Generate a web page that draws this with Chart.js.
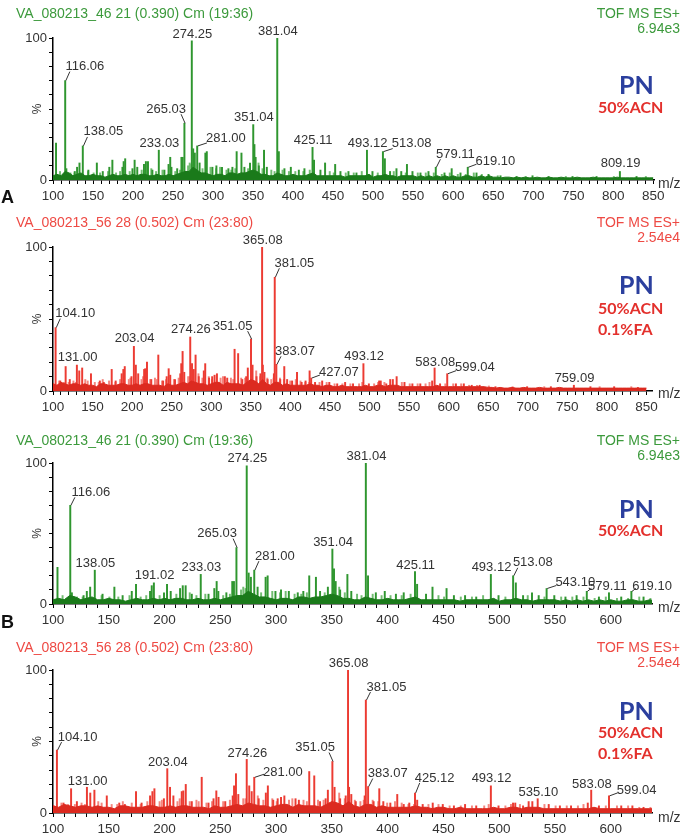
<!DOCTYPE html>
<html>
<head>
<meta charset="utf-8">
<script src="https://cdn.jsdelivr.net/npm/chart.js@4/dist/chart.umd.min.js"></script>
<style>
body{margin:0;background:#fff;width:685px;height:835px;position:relative;overflow:hidden;font-family:"Liberation Sans",Arial,sans-serif}
canvas{position:absolute;left:0}
.t{position:absolute;white-space:nowrap;line-height:1;transform:translateY(-50%);font-size:14px}
.g{color:#3c9a3c}.r{color:#ee4a44}
.pn{position:absolute;font-family:Lato,"Open Sans",sans-serif;font-weight:bold;color:#2b3f9e;font-size:25px;line-height:1;transform:translateY(-50%)}
.sv{position:absolute;font-family:Lato,"Open Sans",sans-serif;font-weight:bold;color:#e3302c;font-size:16px;line-height:1;transform:translateY(-50%)}
.mz{position:absolute;font-size:14px;color:#333;line-height:1;transform:translateY(-50%)}
.big{position:absolute;font-weight:bold;font-size:18px;color:#111;line-height:1;transform:translateY(-50%)}
</style>
</head>
<body>
<canvas id="c1" width="685" height="205" style="top:0"></canvas>
<canvas id="c2" width="685" height="210" style="top:205px"></canvas>
<canvas id="c3" width="685" height="213" style="top:415px"></canvas>
<canvas id="c4" width="685" height="207" style="top:628px"></canvas>

<div class="t g" style="left:16px;top:13px">VA_080213_46 21 (0.390) Cm (19:36)</div>
<div class="t g" style="right:5px;top:13px">TOF MS ES+</div>
<div class="t g" style="right:5px;top:28px">6.94e3</div>
<div class="pn" style="left:619px;top:84px">PN</div>
<div class="sv" style="left:598px;top:107px">50%ACN</div>
<div class="mz" style="left:658px;top:183px">m/z</div>
<div class="big" style="left:1px;top:197px">A</div>

<div class="t r" style="left:16px;top:222px">VA_080213_56 28 (0.502) Cm (23:80)</div>
<div class="t r" style="right:5px;top:222px">TOF MS ES+</div>
<div class="t r" style="right:5px;top:237px">2.54e4</div>
<div class="pn" style="left:619px;top:284px">PN</div>
<div class="sv" style="left:598px;top:308px">50%ACN</div>
<div class="sv" style="left:598px;top:329px">0.1%FA</div>
<div class="mz" style="left:658px;top:393px">m/z</div>

<div class="t g" style="left:16px;top:440px">VA_080213_46 21 (0.390) Cm (19:36)</div>
<div class="t g" style="right:5px;top:440px">TOF MS ES+</div>
<div class="t g" style="right:5px;top:455px">6.94e3</div>
<div class="pn" style="left:619px;top:508px">PN</div>
<div class="sv" style="left:598px;top:530px">50%ACN</div>
<div class="mz" style="left:658px;top:607px">m/z</div>
<div class="big" style="left:1px;top:622px">B</div>

<div class="t r" style="left:16px;top:647px">VA_080213_56 28 (0.502) Cm (23:80)</div>
<div class="t r" style="right:5px;top:647px">TOF MS ES+</div>
<div class="t r" style="right:5px;top:662px">2.54e4</div>
<div class="pn" style="left:619px;top:710px">PN</div>
<div class="sv" style="left:598px;top:732px">50%ACN</div>
<div class="sv" style="left:598px;top:753px">0.1%FA</div>
<div class="mz" style="left:658px;top:817px">m/z</div>

<script>
// PN in 50% ACN (green) - peak m/z and relative intensity (%)
const mzGreen=[104.6,116.06,117.5,128,130.9,133.9,138.05,145,155.6,163,171.2,175,187.6,189.1,191.02,200.1,202.8,206.1,214.5,216.9,219.5,225,233.03,240,245.2,247.3,248.8,256,261.3,262.8,265.03,274.25,276,278,281.00,284,291.2,293,300,305,312,320,325,330.3,336.3,340,347,351.04,352.5,354,358,364.5,368,381.04,383,390,398,408,415,425.11,427,435,440.8,453.4,460,470,480,493.12,500,513.08,515.5,522,530,536,543.10,550,560,570,579.11,590,599,610,619.10,630,645,660,680,700,720,750,780,809.19,830];
const pctGreen=[26,70,8,6,9,12,24,7,12,6,9,14,9,13,15,8,14,9,11,13,13,7,21,7,11,16,9,8,16,16,40,98,22,19,24,12,19,20,9,10,9,8,9,20,19,9,12,39,25,16,10,21,9,100,20,8,9,7,8,23,14,7,12,11,6,6,5,21,6,20,15,6,8,6,11,6,5,6,9,5,8,5,9,5,4,3,2.5,3,2.5,2.5,2.5,6,2.5];
// smaller, paler spikes
const mzGreenMinor=[108,121,126,143,150,158,168,178,183,195,210,222,228,236,252,258,268,270,272,286,296,303,308,316,322,327,343,356,361,372,376,386,394,402,412,420,445,450,465,475,485,505,525,540,555,565,575,585,595,605,615,625,635,655,690,740,800,840];
const pctGreenMinor=[6,5,5,6,5,5,6,5,6,6,7,8,6,7,6,7,10,12,11,8,9,8,9,7,7,8,8,12,8,7,6,7,6,6,6,7,6,5,5,5,6,5,6,5,5,5,5,4,5,4,4,5,4,3,2.5,2.5,2.5,2.5];
// noise floor, read every 5 m/z from 100 to 850
const floorGreen=[3,4,3,6,5,3,4,5,3,3, 4,3,3,2,3,4,3,3,4,3, 4,3,4,4,3,3,4,3,3,4, 3,4,5,6,6,9,7,5,5,4, 3,4,4,3,5,5,4,5,5,6, 7,6,4,4,3,3,5,4,3,3, 4,3,3,3,4,5,3,3,3,3, 3,3,3,2,3,3,3,3,3,4, 2,3,3,4,3,3,2,3,3,3, 3,2,3,2,3,2,3,2,3,2, 3,2,2,3,3,2,2,3,2,3, 2,2,1.5,2,2,1.5,2,1.5,2,1.5, 1.5,2,1.5,1.5,2,1.5,1.5,2,1.5,1.5, 1.5,2,1.5,1.5,1.5,2,1.5,1.5,1.5,1.5, 1.5,2,1.5,1.5,1.5,1.5,1.5,1.5,1.5,1.5, 1.5];

// PN in 50% ACN + 0.1% FA (red)
const mzRed=[101,104.10,110,116.8,122,131.00,134,137.7,148.8,160,165,175,180,187.6,189.7,191.5,200,203.04,205.5,208.5,216,217.4,219.6,225,233.9,240,244.5,247,249,255,261.7,262.9,264.6,266.7,274.26,276.5,278.7,281.00,285,291.4,293.2,298,302,305,308,318,321,330.3,334.8,340,345,347,351.05,353,358,363,365.08,366,368,372,380,381.05,383.07,388,393.1,396.7,403,409.2,415,420,425.12,427.07,432,441,450,460,470,480,493.12,500,513,515,522,527,530.3,535.10,545,555,565,580,583.08,590,599.04,610,620,630,640,660,700,730,759.09,780,810,840];
const pctRed=[5,44,7,17,8,18,14,16,12,7,6,15,7,12,15,17,10,31,18,12,15,15.5,20,8,25,7,10,15.5,11,8,12,19,27.5,13,37.5,19,15,25,10,14,19,9,10,11,12,10,9,29,26,8,10,16,36,18,10,12,100,18,13,8,12,79,18.5,8,17,8,7,13,6,7,14,9,6,7,6,5,6,5,19,5,7,7,5,8,8,10,6,5,5,7,16,5,12,5,5,4,4,3,3,3,4,3,3,2.5];
const mzRedMinor=[107,113,119,125,128,140,143,152,157,162,170,178,184,195,197,211,213,222,228,230,237,242,252,258,270,272,283,288,296,300,311,314,324,327,337,342,356,361,370,375,378,386,391,399,406,412,418,423,436,445,455,465,475,486,490,505,510,518,540,550,560,570,575,595,605,615,625,635,650,680,720,790,830];
const pctRedMinor=[7,6,6,7,6,8,7,6,6,8,7,6,8,8,9,8,10,8,9,8,7,8,8,9,10,10,12,9,10,8,9,10,9,8,9,9,14,10,9,8,9,9,8,7,8,7,6,6,6,6,5,5,5,5,6,5,6,6,6,5,5,5,6,5,5,5,4,4,3.5,3,3,3,3];
const floorRed=[5,4,6,5,4,5,5,4,5,4, 4,3,5,5,4,4,4,5,5,4, 4,5,4,5,5,4,4,4,3,5, 4,4,5,6,5,7,6,5,5,4, 5,6,6,4,6,5,5,5,4,6, 8,7,5,8,5,4,6,6,4,5, 4,4,4,4,4,5,4,4,3,4, 4,3,3,4,3,3,3,3,3,4, 3,3,4,4,3,4,4,4,3,3, 3,3,3,3,3,3,3,4,3,3, 3,3,3,3,3,3,3,3,3,3, 2.5,2.5,2,2.5,2,2,2.5,2,2,2.5, 2,2,2,2.5,2,2,2,2,2.5,2, 2,2,2,2,2,2,2,2,2,2, 2,2,2,2,2,2,2,2,2,2, 2];

// labelled peaks per panel
const lab1=[116.06,138.05,233.03,265.03,274.25,281.00,351.04,381.04,425.11,493.12,513.08,579.11,619.10,809.19];
const lab2=[104.10,131.00,203.04,274.26,351.05,365.08,381.05,383.07,427.07,493.12,583.08,599.04,759.09];
const lab3=[116.06,138.05,191.02,233.03,265.03,274.25,281.00,351.04,381.04,425.11,493.12,513.08,543.10,579.11,619.10];
const lab4=[104.10,131.00,203.04,274.26,281.00,351.05,365.08,381.05,383.07,425.12,493.12,535.10,583.08,599.04];

// label placement: [dx, lift] in px
const pos1=[[19,14],[20,14],[0,7],[-19,14],[0,6],[28,7],[0,7],[0,7],[0,7],[0,7],[28,8],[19,13],[27,6],[0,8]];
const pos2=[[19,14],[0,8],[0,8],[0,8],[-19,13],[0,7],[19,14],[18,13],[27,6],[0,7],[0,6],[27,6],[0,7]];
const pos3=[[20,13],[0,7],[0,7],[0,7],[-20,14],[0,7],[20,14],[0,7],[0,7],[0,6],[0,7],[19,13],[28,6],[20,5],[20,5]];
const pos4=[[20,13],[0,6],[0,6],[0,6],[28,5],[-18,14],[0,7],[20,13],[19,13],[19,15],[0,7],[0,6],[0,6],[27,5]];

const FONT='"Liberation Sans", Arial, sans-serif';

const peakLabels={
  id:'peakLabels',
  afterDatasetsDraw(chart,args,o){
    const ctx=chart.ctx,x=chart.scales.x,y=chart.scales.y;
    ctx.save();
    ctx.font='13px '+FONT;
    ctx.fillStyle='#333';ctx.strokeStyle='#333';ctx.lineWidth=1;
    ctx.textAlign='center';ctx.textBaseline='middle';
    o.mz.forEach((m,i)=>{
      const h=o.pct[o.allMz.indexOf(m)];
      const px=x.getPixelForValue(m),py=y.getPixelForValue(h);
      const dx=o.pos[i][0],lift=o.pos[i][1];
      const cx=px+dx,cy=py-lift,txt=m.toFixed(2);
      ctx.fillText(txt,cx,cy);
      if(dx){
        const hw=ctx.measureText(txt).width/2,s=Math.sign(dx);
        const ex=px+s*Math.max(4,Math.abs(dx)-hw+1),ey=Math.min(cy+5,py-3);
        ctx.beginPath();ctx.moveTo(px,py);ctx.lineTo(ex,ey);ctx.stroke();
      }
    });
    // % axis label
    ctx.font='12px '+FONT;
    ctx.translate(38,(chart.chartArea.top+chart.chartArea.bottom)/2);
    ctx.rotate(-Math.PI/2);
    ctx.fillText('%',0,0);
    ctx.restore();
  }
};

function panel(id,mz,pct,mzMin,pctMin,floor,xMax,lay,col,labs,pos){
  const pts=mz.map((m,i)=>({x:m,y:pct[i]}));
  const small=mzMin.map((m,i)=>({x:m,y:pctMin[i]}));
  const fl=floor.map((v,i)=>({x:100+5*i,y:v}));
  return new Chart(document.getElementById(id),{
    type:'bar',
    data:{datasets:[
      {type:'line',data:fl,fill:'origin',backgroundColor:col[1],borderColor:col[1],borderWidth:1,pointRadius:0,tension:0,order:1},
      {type:'bar',data:pts,backgroundColor:col[0],barThickness:1.3,borderWidth:0,order:2},
      {type:'bar',data:small,backgroundColor:col[2],barThickness:1.3,borderWidth:0,order:3}
    ]},
    options:{
      responsive:false,animation:false,events:[],
      layout:{padding:{top:lay.top,right:lay.right,left:0,bottom:0}},
      plugins:{legend:{display:false},tooltip:{enabled:false},
        peakLabels:{mz:labs,pos:pos,allMz:mz,pct:pct}},
      scales:{
        x:{type:'linear',min:100,max:xMax,offset:false,
          afterFit:s=>{s.height=lay.xh;},
          border:{display:true,color:'#000',width:1.5},
          grid:{drawOnChartArea:false,drawTicks:true,tickLength:4,tickColor:'#000',offset:false},
          ticks:{stepSize:10,autoSkip:false,maxRotation:0,includeBounds:false,padding:4,color:'#333',font:{family:FONT,size:13.5},
            callback:v=>v%50===0?v:''}},
        y:{min:0,max:100,
          afterFit:s=>{s.width=53;},
          border:{display:true,color:'#000',width:1.5},
          grid:{drawOnChartArea:false,drawTicks:true,tickLength:4,tickColor:'#000'},
          ticks:{stepSize:10,autoSkip:false,padding:2,color:'#333',font:{family:FONT,size:13},
            callback:v=>(v===0||v===100)?v:''}}
      }
    },
    plugins:[peakLabels]
  });
}

const green=['#2f962f','#1a7a1a','#72bd72'], red=['#ec3b32','#dc2a20','#f4857e'];
panel('c1',mzGreen,pctGreen,mzGreenMinor,pctGreenMinor,floorGreen,851,{top:38,right:31,xh:25},green,lab1,pos1);
panel('c2',mzRed,pctRed,mzRedMinor,pctRedMinor,floorRed,857,{top:42,right:33,xh:24},red,lab2,pos2);
panel('c3',mzGreen,pctGreen,mzGreenMinor,pctGreenMinor,floorGreen,637,{top:48,right:33,xh:24},green,lab3,pos3);
panel('c4',mzRed,pctRed,mzRedMinor,pctRedMinor,floorRed,637,{top:42,right:33,xh:22},red,lab4,pos4);
</script>
</body>
</html>
